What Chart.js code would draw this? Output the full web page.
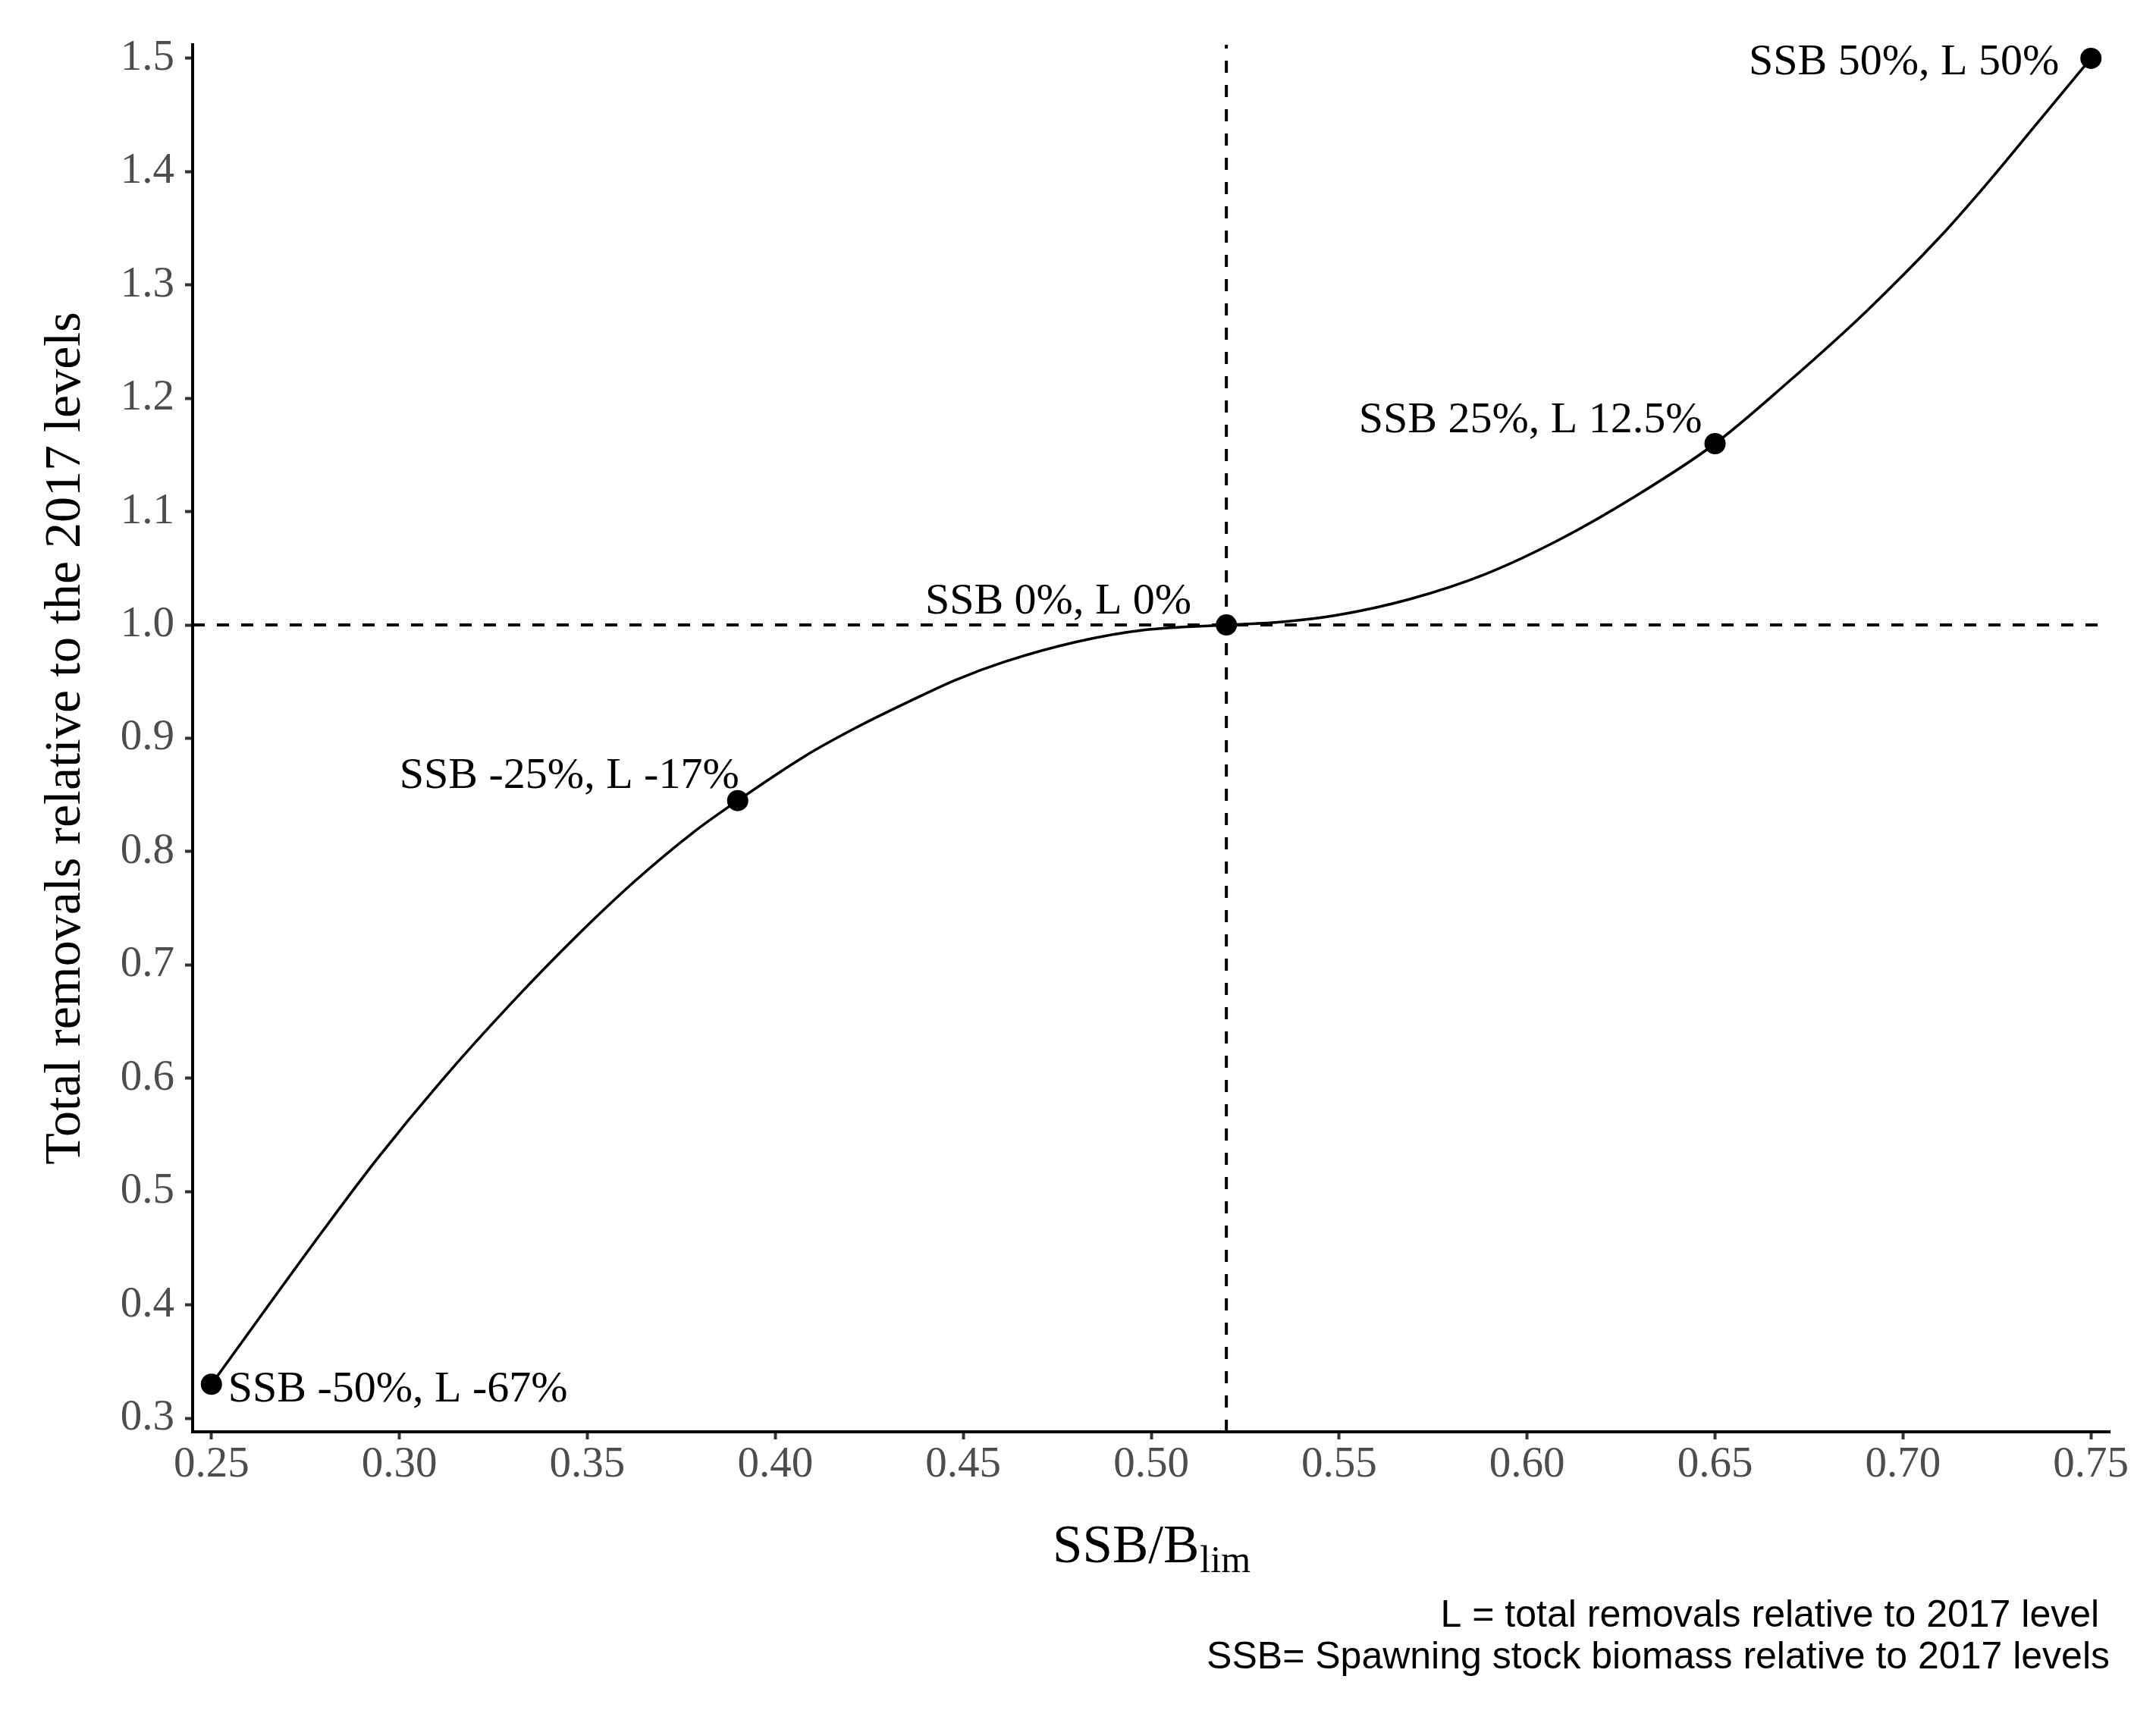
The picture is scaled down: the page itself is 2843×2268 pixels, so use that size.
<!DOCTYPE html>
<html>
<head>
<meta charset="utf-8">
<title>Total removals vs SSB/Blim</title>
<script src="https://cdn.jsdelivr.net/npm/chart.js@4.4.0/dist/chart.umd.min.js"></script>
<style>
  html, body { margin: 0; padding: 0; background: #ffffff; }
  #wrap { width: 2843px; height: 2268px; }
</style>
</head>
<body>
<div id="wrap"><canvas id="chart" width="2843" height="2268"></canvas></div>
<script>
// scenario points (SSB/Blim, total removals relative to 2017)
const pointX = [0.25, 0.39, 0.52, 0.65, 0.75];
const pointY = [0.33, 0.845, 1.0, 1.16, 1.5];
const pointLabels = [
    'SSB -50%, L -67%',
    'SSB -25%, L -17%',
    'SSB 0%, L 0%',
    'SSB 25%, L 12.5%',
    'SSB 50%, L 50%'
];

// fitted curve
const curveX = [0.25, 0.28, 0.294, 0.311, 0.33, 0.347, 0.363, 0.378, 0.39, 0.408, 0.421, 0.435, 0.448,
    0.461, 0.48, 0.498, 0.52, 0.535, 0.549, 0.569, 0.589, 0.609, 0.629, 0.65, 0.669, 0.69, 0.71, 0.723, 0.736, 0.75];
const curveY = [0.33, 0.467, 0.5285, 0.597, 0.667, 0.725, 0.775, 0.8165, 0.845, 0.8845, 0.9085, 0.9315, 0.9515,
    0.9675, 0.985, 0.9955, 1.0, 1.0028, 1.0084, 1.023, 1.045, 1.076, 1.114, 1.16, 1.213, 1.276, 1.343, 1.392, 1.444, 1.5];

// reference lines
const refX = 0.52;
const refY = 1.0;

// axes
const xTicks = [0.25, 0.30, 0.35, 0.40, 0.45, 0.50, 0.55, 0.60, 0.65, 0.70, 0.75];
const yTicks = [0.3, 0.4, 0.5, 0.6, 0.7, 0.8, 0.9, 1.0, 1.1, 1.2, 1.3, 1.4, 1.5];
const xRange = [0.245, 0.755];
const yRange = [0.288, 1.512];

const yTitle = 'Total removals relative to the 2017 levels';
const xTitle = ['SSB/B', 'lim'];
const footnote = [
    'L = total removals relative to 2017 level ',
    'SSB= Spawning stock biomass relative to 2017 levels'
];

// label placement relative to each point, in pixels
const labelPlacement = [
    { align: 'left', dx: 22, dy: 23 },
    { align: 'right', dx: 2, dy: -17 },
    { align: 'right', dx: -46, dy: -15 },
    { align: 'right', dx: -17, dy: -15 },
    { align: 'right', dx: -42, dy: 21 }
];

const SERIF = '"Liberation Serif", "Times New Roman", serif';
const SANS = '"Liberation Sans", Arial, sans-serif';

const annotatePlugin = {
    id: 'annotate',
    afterDraw(chart) {
        const { ctx, chartArea } = chart;
        const xs = chart.scales.x;
        const ys = chart.scales.y;

        ctx.save();
        ctx.fillStyle = '#000000';

        // point labels
        ctx.font = '58px ' + SERIF;
        ctx.textBaseline = 'alphabetic';
        pointLabels.forEach((text, i) => {
            const p = labelPlacement[i];
            const px = xs.getPixelForValue(pointX[i]);
            const py = ys.getPixelForValue(pointY[i]);
            ctx.textAlign = p.align;
            ctx.fillText(text, px + p.dx, py + p.dy);
        });

        // x axis title with subscript
        ctx.textAlign = 'left';
        const mainFont = '71px ' + SERIF;
        const subFont = '50px ' + SERIF;
        ctx.font = mainFont;
        const w1 = ctx.measureText(xTitle[0]).width;
        ctx.font = subFont;
        const w2 = ctx.measureText(xTitle[1]).width;
        const cx = (chartArea.left + chartArea.right) / 2;
        const startX = cx - (w1 + w2) / 2;
        const base = 2060;
        ctx.font = mainFont;
        ctx.fillText(xTitle[0], startX, base);
        ctx.font = subFont;
        ctx.fillText(xTitle[1], startX + w1 + 1, base + 13);

        // footnote
        ctx.font = '50px ' + SANS;
        ctx.textAlign = 'right';
        footnote.forEach((line, i) => {
            ctx.fillText(line, chartArea.right, 2145 + i * 55);
        });

        ctx.restore();
    }
};

const axisBase = {
    type: 'linear',
    border: { display: true, color: '#000000', width: 4 },
    grid: {
        drawOnChartArea: false,
        drawTicks: true,
        tickLength: 10,
        tickWidth: 4,
        tickColor: '#333333'
    }
};

const ctx = document.getElementById('chart').getContext('2d');
new Chart(ctx, {
    type: 'line',
    data: {
        datasets: [
            {
                label: 'scenarios',
                data: pointX.map((x, i) => ({ x, y: pointY[i] })),
                showLine: false,
                pointRadius: 14,
                pointBackgroundColor: '#000000',
                pointBorderColor: '#000000',
                pointBorderWidth: 0
            },
            {
                label: 'curve',
                data: curveX.map((x, i) => ({ x, y: curveY[i] })),
                borderColor: '#000000',
                borderWidth: 3.5,
                pointRadius: 0,
                cubicInterpolationMode: 'monotone',
                fill: false
            },
            {
                label: 'ref-h',
                data: [{ x: xRange[0], y: refY }, { x: xRange[1], y: refY }],
                borderColor: '#000000',
                borderWidth: 4,
                borderDash: [16, 16],
                pointRadius: 0
            },
            {
                label: 'ref-v',
                data: [{ x: refX, y: yRange[0] }, { x: refX, y: yRange[1] }],
                borderColor: '#000000',
                borderWidth: 4,
                borderDash: [16, 16],
                pointRadius: 0
            }
        ]
    },
    options: {
        responsive: false,
        animation: false,
        devicePixelRatio: 1,
        layout: { padding: { left: 0, right: 61, top: 59, bottom: 0 } },
        plugins: {
            legend: { display: false },
            tooltip: { enabled: false }
        },
        scales: {
            x: {
                ...axisBase,
                min: xRange[0],
                max: xRange[1],
                afterBuildTicks(scale) {
                    scale.ticks = xTicks.map(v => ({ value: v }));
                },
                afterFit(scale) {
                    scale.height = 380;
                    scale.paddingLeft = 0;
                    scale.paddingRight = 0;
                },
                ticks: {
                    font: { family: SERIF, size: 57 },
                    color: '#4d4d4d',
                    padding: 0,
                    maxRotation: 0,
                    autoSkip: false,
                    callback: v => Number(v).toFixed(2)
                }
            },
            y: {
                ...axisBase,
                min: yRange[0],
                max: yRange[1],
                afterBuildTicks(scale) {
                    scale.ticks = yTicks.map(v => ({ value: v }));
                },
                afterFit(scale) {
                    scale.width = 254;
                    scale.paddingTop = 0;
                    scale.paddingBottom = 0;
                },
                ticks: {
                    font: { family: SERIF, size: 57 },
                    color: '#4d4d4d',
                    padding: 14,
                    autoSkip: false,
                    callback: v => Number(v).toFixed(1)
                },
                title: {
                    display: true,
                    text: yTitle,
                    color: '#000000',
                    font: { family: SERIF, size: 68 },
                    padding: { top: 46, bottom: 0 }
                }
            }
        }
    },
    plugins: [annotatePlugin]
});
</script>
</body>
</html>
